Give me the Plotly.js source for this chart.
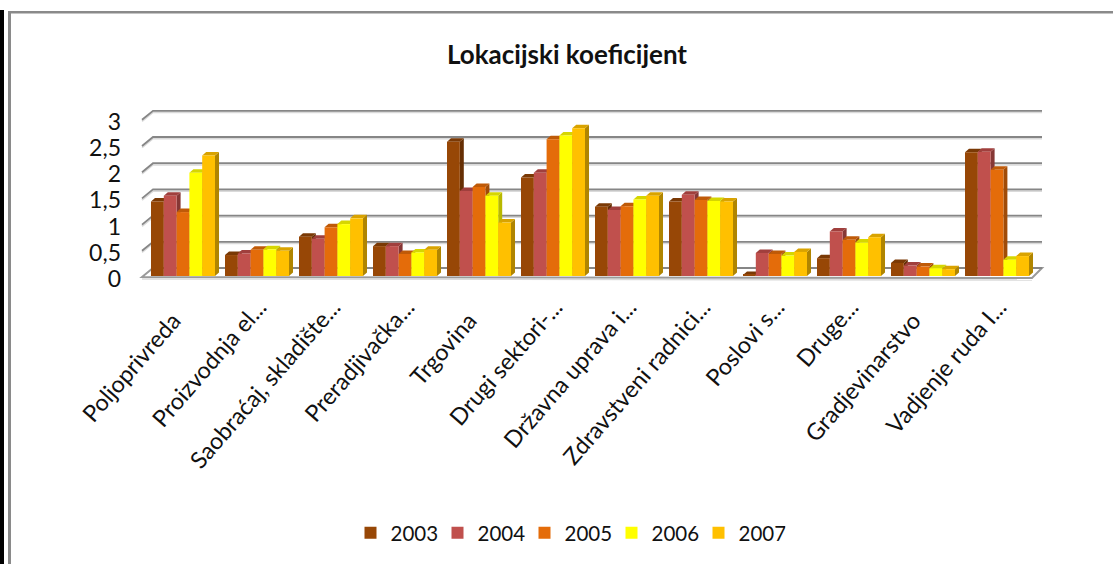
<!DOCTYPE html>
<html><head><meta charset="utf-8">
<script src="https://cdn.plot.ly/plotly-3.0.1.min.js"></script>
<style>html,body{margin:0;padding:0;background:#fff;overflow:hidden}#c{width:1113px;height:564px}</style>
</head><body><div id="c"></div>
<script>
const categories = ["Poljoprivreda\u00A0\u00A0\u00A0","Proizvodnja el...","Saobraćaj, skladište...","Preradjivačka...","Trgovina\u00A0\u00A0\u00A0","Drugi sektori-...","Državna uprava i...","Zdravstveni radnici...","Poslovi s...","Druge...","Gradjevinarstvo\u00A0\u00A0\u00A0","Vadjenje ruda I..."];
const y2003 = [1.42,0.40,0.75,0.57,2.56,1.88,1.32,1.42,0.02,0.34,0.25,2.36];
const y2004 = [1.53,0.43,0.71,0.57,1.62,1.97,1.26,1.55,0.44,0.85,0.20,2.37];
const y2005 = [1.22,0.50,0.93,0.42,1.70,2.61,1.33,1.45,0.42,0.69,0.18,2.03];
const y2006 = [1.97,0.51,0.99,0.45,1.53,2.68,1.46,1.43,0.39,0.64,0.15,0.31];
const y2007 = [2.30,0.48,1.10,0.50,1.02,2.82,1.53,1.42,0.46,0.74,0.13,0.38];
const years = ["2003","2004","2005","2006","2007"];
const yTickVals = [0,0.5,1,1.5,2,2.5,3];
const yTickText = ["0","0,5","1","1,5","2","2,5","3"];
const frontColors = ["#974706","#C0504D","#E46C0A","#FFFF00","#FFC000"];
const topColors = ["#7A3905","#A03F3D","#BF5A08","#D6D600","#D9A300"];
const sideColors = ["#662F04","#863735","#A04B07","#B8B800","#B08500"];

const series = [y2003,y2004,y2005,y2006,y2007];
const W=1113,H=564;
// plot box in pixels, and the pixels per axis unit of the bar plane
const L=138,R=1046,T=107,B=283;
const pxX=74, pxY=52.4, zeroX=146, zeroY=276;
const xMin=-0.5+(L-zeroX)/pxX, xMax=-0.5+(R-zeroX)/pxX;
const yMin=(zeroY-B)/pxY, yMax=(zeroY-T)/pxY;
const bargap=0.135;
const dx=4/pxX, dy=3.5/pxY;

const path=pts=>"M"+pts.map(p=>p[0]+","+p[1]).join("L")+"Z";
const shapes=[];
const wallFrontX=-0.5-4/pxX, wallBackX=-0.5+7/pxX, wallRightX=11.5+8/pxX;
const backDy=8/pxY, frontDy=-1/pxY;
yTickVals.forEach(v=>{
  if(v>0){
    [["#DADADA",1.6/pxY],["#868686",0]].forEach(([c,o])=>{
      shapes.push({type:"path",layer:"below",xref:"x",yref:"y",
        path:`M${wallFrontX},${v+frontDy-o}L${wallBackX},${v+backDy-o}L${wallRightX},${v+backDy-o}`,
        line:{color:c,width:1.8},fillcolor:"rgba(0,0,0,0)"});
    });
  }
});
// floor
shapes.push({type:"path",layer:"below",xref:"x",yref:"y",
  path:path([[wallFrontX,frontDy],[wallBackX,backDy],[wallRightX,backDy],[11.5-2/pxX,frontDy-1/pxY]]),
  line:{color:"#9a9a9a",width:2},fillcolor:"#ffffff"});
shapes.push({type:"path",layer:"below",xref:"x",yref:"y",
  path:`M${wallFrontX},${frontDy-2/pxY}L${11.5-2/pxX},${frontDy-3/pxY}`,
  line:{color:"#DADADA",width:1.4},fillcolor:"rgba(0,0,0,0)"});
shapes.push({type:"path",layer:"below",xref:"x",yref:"y",
  path:`M${wallBackX},${backDy}L${wallRightX},${backDy}`,
  line:{color:"#868686",width:1.8},fillcolor:"rgba(0,0,0,0)"});
// 3D side and top faces of each bar, from the series values
const gw=(1-bargap)/years.length;
categories.forEach((c,i)=>{
  series.forEach((s,k)=>{
    const x0=i-(1-bargap)/2+k*gw, x1=x0+gw, v=s[i];
    shapes.push({type:"path",layer:"below",xref:"x",yref:"y",line:{width:0},fillcolor:sideColors[k],
      path:path([[x1,0],[x1+dx,dy],[x1+dx,v+dy],[x1,v]])});
    shapes.push({type:"path",layer:"below",xref:"x",yref:"y",line:{width:0},fillcolor:topColors[k],
      path:path([[x0,v],[x0+dx,v+dy],[x1+dx,v+dy],[x1,v]])});
  });
});
// page frame
const px=p=>(p-L)/(R-L), py=p=>(B-p)/(B-T);
shapes.push({type:"rect",xref:"paper",yref:"paper",layer:"above",x0:px(0),x1:px(4),y0:py(H),y1:py(10),fillcolor:"#000",line:{width:0}});
shapes.push({type:"rect",xref:"paper",yref:"paper",layer:"above",x0:px(8),x1:px(11),y0:py(H),y1:py(11),fillcolor:"#8a8a8a",line:{width:0}});
shapes.push({type:"rect",xref:"paper",yref:"paper",layer:"above",x0:px(8),x1:px(W),y0:py(13.5),y1:py(11),fillcolor:"#8a8a8a",line:{width:0}});

const font="Lato, 'Open Sans', sans-serif";
const traces=years.map((y,k)=>({type:"bar",name:y,x:categories.map((_,i)=>i),y:series[k],
  marker:{color:frontColors[k],line:{width:0}},hoverinfo:"x+y"}));
const layout={
  width:W,height:H,autosize:false,
  margin:{l:L,r:W-R,t:T,b:H-B,pad:0},
  paper_bgcolor:"#fff",plot_bgcolor:"rgba(0,0,0,0)",
  barmode:"group",bargap:bargap,bargroupgap:0,
  font:{family:font,color:"#111",size:20},
  title:{text:"<b>Lokacijski koeficijent</b>",font:{family:font,size:26,color:"#111"},x:567/W,xanchor:"center",y:1-55/H,yanchor:"middle"},
  xaxis:{type:"linear",range:[xMin,xMax],tickmode:"array",tickvals:categories.map((_,i)=>i),ticktext:categories,
    tickangle:-49,showgrid:false,zeroline:false,showline:false,ticks:"",ticklabelstandoff:5,ticklabelshift:2,tickfont:{size:23.3,family:font,color:"#111"}},
  yaxis:{range:[yMin,yMax],tickmode:"array",tickvals:yTickVals,ticktext:yTickText,showgrid:false,zeroline:false,showline:false,
    ticks:"",ticklabelstandoff:16,ticklabelshift:3,tickfont:{size:23,family:font,color:"#111"}},
  legend:{orientation:"h",x:(568-L)/(R-L),xanchor:"center",y:(B-533)/(B-T),yanchor:"middle",entrywidth:42,entrywidthmode:"pixels",font:{size:20.5,family:font,color:"#111"},itemclick:false,itemdoubleclick:false,bgcolor:"rgba(0,0,0,0)"},
  shapes:shapes,showlegend:true
};
Plotly.newPlot("c",traces,layout,{displayModeBar:false,responsive:false});
</script></body></html>
